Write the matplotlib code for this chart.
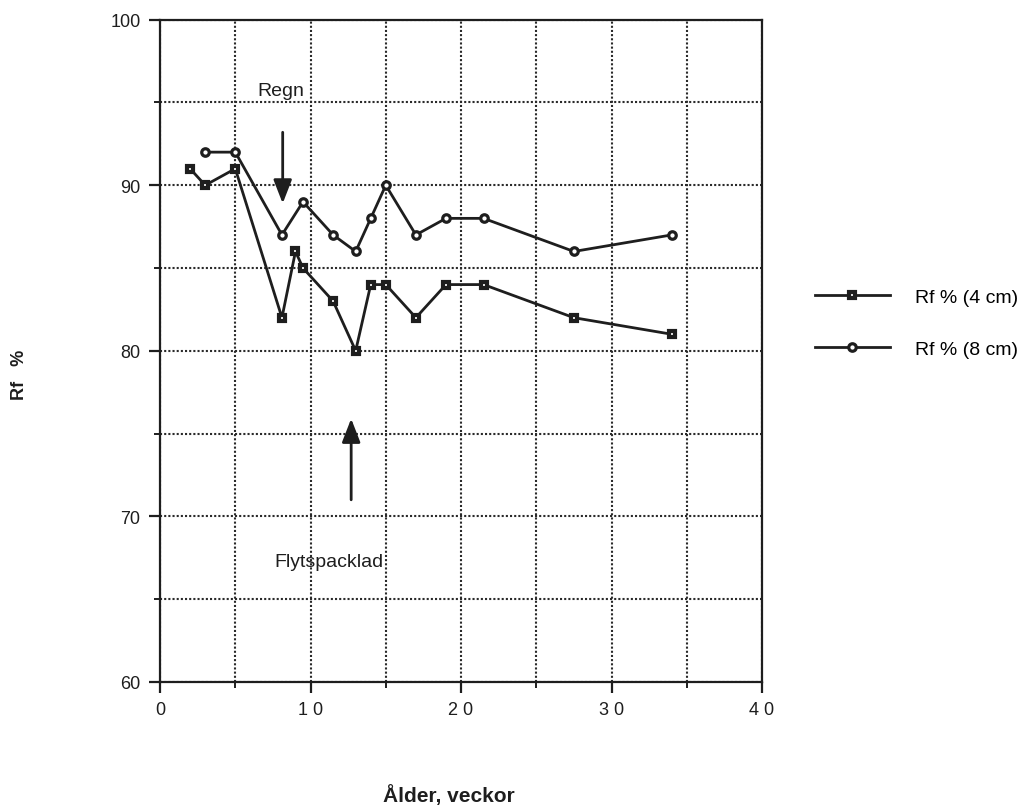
import matplotlib
matplotlib.use("Agg")
import matplotlib.pyplot as plt
from matplotlib.ticker import MultipleLocator

plt.rcParams['font.family'] = ['Liberation Sans', 'DejaVu Sans']

# Age in weeks and relative humidity at two depths
weeks_4cm = [2, 3, 5, 8.1, 9, 9.5, 11.5, 13, 14, 15, 17, 19, 21.5, 27.5, 34]
rf_4cm = [91, 90, 91, 82, 86, 85, 83, 80, 84, 84, 82, 84, 84, 82, 81]
weeks_8cm = [3, 5, 8.1, 9.5, 11.5, 13, 14, 15, 17, 19, 21.5, 27.5, 34]
rf_8cm = [92, 92, 87, 89, 87, 86, 88, 90, 87, 88, 88, 86, 87]

x_ticks = [0, 10, 20, 30, 40]
x_tick_labels = ["0", "1 0", "2 0", "3 0", "4 0"]
y_ticks = [60, 70, 80, 90, 100]

ink = "#1e1e1e"

fig = plt.figure(figsize=(10.22, 8.12), dpi=100)
ax = fig.add_axes([0.1566, 0.159, 0.589, 0.8155])

l1, = ax.plot(weeks_4cm, rf_4cm, color=ink, lw=2.0, marker='s', ms=4.6,
              mfc='white', mec=ink, mew=3.0, label="Rf % (4 cm)", zorder=3)
l2, = ax.plot(weeks_8cm, rf_8cm, color=ink, lw=2.0, marker='o', ms=5.4,
              mfc='white', mec=ink, mew=2.3, label="Rf % (8 cm)", zorder=3)

ax.set_xlim(0, 40)
ax.set_ylim(60, 100)
ax.set_xticks(x_ticks)
ax.set_xticklabels(x_tick_labels)
ax.set_yticks(y_ticks)
ax.xaxis.set_minor_locator(MultipleLocator(5))
ax.yaxis.set_minor_locator(MultipleLocator(5))
ax.grid(True, which='both', color='#2a2a2a', linestyle=(0, (1, 1)), lw=1.5)
ax.set_axisbelow(True)
for s in ax.spines.values():
    s.set_linewidth(1.6)
    s.set_color(ink)
ax.tick_params(which='major', direction='out', length=8, width=1.6,
               labelsize=13, colors=ink, pad=6)
ax.tick_params(which='minor', direction='out', length=4, width=1.4, colors=ink)

fig.text(449 / 1022, 1 - 796 / 812, "Ålder, veckor", fontsize=15,
         fontweight='bold', ha='center', va='center', color=ink)
fig.text(20 / 1022, 1 - 375 / 812, "Rf   %", fontsize=13, fontweight='bold',
         rotation=90, ha='center', va='center', color=ink)

# Event annotations
arrow = dict(arrowstyle='-|>,head_length=0.9,head_width=0.35', color=ink,
             lw=2.0, shrinkA=0, shrinkB=0, mutation_scale=16)
ax.annotate("", xy=(8.15, 88.9), xytext=(8.15, 93.2), arrowprops=arrow)
ax.text(8.0, 95.7, "Regn", fontsize=14, ha='center', va='center', color=ink)
ax.annotate("", xy=(12.7, 75.9), xytext=(12.7, 71.0), arrowprops=arrow)
ax.text(11.2, 67.3, "Flytspacklad", fontsize=14, ha='center', va='center',
        color=ink)

fig.legend(handles=[l1, l2], loc='center left',
           bbox_to_anchor=(815 / 1022, 1 - 324 / 812), frameon=False,
           fontsize=14, handlelength=3.85, handletextpad=1.3,
           labelspacing=1.75, borderpad=0, borderaxespad=0)

fig.savefig("out.png", dpi=100)
